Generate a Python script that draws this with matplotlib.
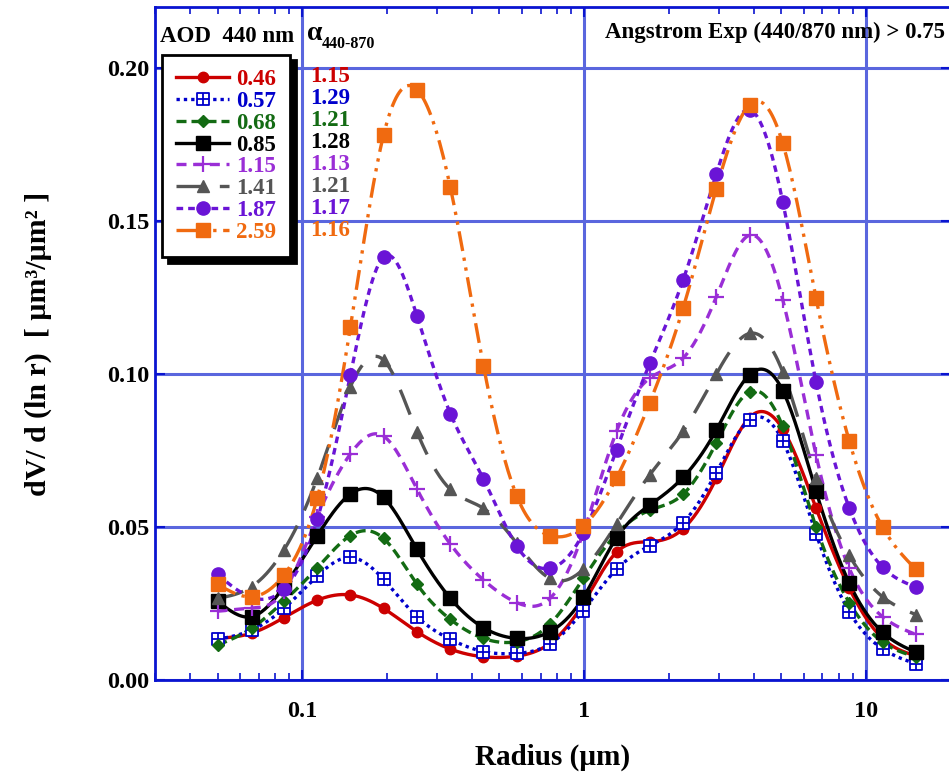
import numpy as np
import matplotlib
matplotlib.use("Agg")
import matplotlib.pyplot as plt
from matplotlib.path import Path
from matplotlib.lines import Line2D

plt.rcParams['font.family'] = ['Liberation Serif', 'DejaVu Serif']
plt.rcParams['font.weight'] = 'bold'
plt.rcParams['axes.labelweight'] = 'bold'

# AERONET radius bins (um)
radius = [0.050, 0.066, 0.086, 0.113, 0.148, 0.194, 0.255, 0.335, 0.439, 0.576, 0.756,
          0.992, 1.302, 1.708, 2.241, 2.940, 3.857, 5.061, 6.641, 8.713, 11.432, 15.000]

aod_labels = ['0.46', '0.57', '0.68', '0.85', '1.15', '1.41', '1.87', '2.59']
alpha_labels = ['1.15', '1.29', '1.21', '1.28', '1.13', '1.21', '1.17', '1.16']

dv_046 = [0.0136, 0.0153, 0.0204, 0.0261, 0.0278, 0.0234, 0.0158, 0.0101, 0.0076, 0.0078, 0.0120,
          0.0250, 0.0418, 0.0452, 0.0494, 0.0659, 0.0858, 0.0820, 0.0562, 0.0300, 0.0136, 0.0079]
dv_057 = [0.0133, 0.0163, 0.0234, 0.0340, 0.0401, 0.0329, 0.0207, 0.0133, 0.0093, 0.0087, 0.0118,
          0.0227, 0.0362, 0.0439, 0.0514, 0.0678, 0.0849, 0.0781, 0.0478, 0.0223, 0.0102, 0.0053]
dv_068 = [0.0114, 0.0169, 0.0258, 0.0367, 0.0472, 0.0463, 0.0313, 0.0198, 0.0136, 0.0125, 0.0183,
          0.0332, 0.0478, 0.0555, 0.0607, 0.0775, 0.0942, 0.0829, 0.0500, 0.0253, 0.0124, 0.0076]
dv_085 = [0.0258, 0.0207, 0.0305, 0.0472, 0.0608, 0.0597, 0.0427, 0.0267, 0.0171, 0.0136, 0.0158,
          0.0270, 0.0465, 0.0572, 0.0662, 0.0817, 0.0998, 0.0946, 0.0617, 0.0317, 0.0156, 0.0091]
dv_115 = [0.0225, 0.0235, 0.0290, 0.0534, 0.0739, 0.0797, 0.0624, 0.0444, 0.0327, 0.0253, 0.0267,
          0.0481, 0.0813, 0.0987, 0.1052, 0.1252, 0.1454, 0.1243, 0.0736, 0.0365, 0.0207, 0.0149]
dv_141 = [0.0267, 0.0305, 0.0425, 0.0661, 0.0959, 0.1046, 0.0811, 0.0623, 0.0561, 0.0447, 0.0332,
          0.0362, 0.0510, 0.0671, 0.0813, 0.1000, 0.1133, 0.1007, 0.0661, 0.0407, 0.0272, 0.0214]
dv_187 = [0.0345, 0.0270, 0.0297, 0.0525, 0.0997, 0.1383, 0.1190, 0.0871, 0.0657, 0.0438, 0.0365,
          0.0480, 0.0753, 0.1035, 0.1307, 0.1654, 0.1864, 0.1563, 0.0974, 0.0562, 0.0369, 0.0304]
dv_259 = [0.0313, 0.0272, 0.0343, 0.0596, 0.1153, 0.1781, 0.1930, 0.1610, 0.1027, 0.0602, 0.0472,
          0.0503, 0.0661, 0.0907, 0.1215, 0.1606, 0.1880, 0.1754, 0.1249, 0.0781, 0.0500, 0.0362]

series = [dv_046, dv_057, dv_068, dv_085, dv_115, dv_141, dv_187, dv_259]

# open square with a cross inside
box_plus = Path([(-1, -1), (1, -1), (1, 1), (-1, 1), (-1, -1), (0, -1), (0, 1), (-1, 0), (1, 0)],
                [Path.MOVETO, Path.LINETO, Path.LINETO, Path.LINETO, Path.CLOSEPOLY,
                 Path.MOVETO, Path.LINETO, Path.MOVETO, Path.LINETO])

styles = [
    dict(color='#CC0000', ls='-', marker='o', ms=7.5),
    dict(color='#0000CC', ls=(0, (1, 1.2)), marker=box_plus, ms=9, mfc='white', mew=1.3),
    dict(color='#136B13', ls=(0, (3, 1.5)), marker='D', ms=6.5),
    dict(color='black', ls='-', marker='s', ms=10.5),
    dict(color='#9A2ED6', ls=(0, (3, 2)), marker='+', ms=11, mew=1.6),
    dict(color='#555555', ls=(0, (8, 5)), marker='^', ms=9),
    dict(color='#6A14D6', ls=(0, (2, 1.5)), marker='o', ms=9.5),
    dict(color='#F06A10', ls=(0, (6, 2, 1, 2, 1, 2)), marker='s', ms=10),
]


def smooth(x, y, n=400):
    # natural cubic spline through the points, in log-radius
    u = np.log10(x)
    y = np.asarray(y, float)
    k = len(u)
    h = np.diff(u)
    A = np.zeros((k, k))
    b = np.zeros(k)
    A[0, 0] = A[-1, -1] = 1
    for i in range(1, k - 1):
        A[i, i - 1] = h[i - 1]
        A[i, i] = 2 * (h[i - 1] + h[i])
        A[i, i + 1] = h[i]
        b[i] = 6 * ((y[i + 1] - y[i]) / h[i] - (y[i] - y[i - 1]) / h[i - 1])
    m = np.linalg.solve(A, b)
    uu = np.linspace(u[0], u[-1], n)
    j = np.clip(np.searchsorted(u, uu) - 1, 0, k - 2)
    t0 = uu - u[j]
    t1 = u[j + 1] - uu
    hj = h[j]
    yy = (m[j] * t1**3 + m[j + 1] * t0**3) / (6 * hj) \
        + (y[j] / hj - m[j] * hj / 6) * t1 + (y[j + 1] / hj - m[j + 1] * hj / 6) * t0
    return 10**uu, yy


fig = plt.figure(figsize=(9.49, 7.73), dpi=100)
ax = fig.add_axes([155 / 949, 1 - 680 / 773, 796 / 949, 673 / 773])

spine_col = '#0A14D0'
grid_col = '#5A66DE'

handles = []
for vals, st, lab in zip(series, styles, aod_labels):
    xs, ys = smooth(radius, vals)
    ax.plot(xs, ys, color=st['color'], ls=st['ls'], lw=2.4, zorder=3)
    ax.plot(radius, vals, ls='none', marker=st['marker'], ms=st['ms'], color=st['color'],
            mfc=st.get('mfc', st['color']), mec=st['color'], mew=st.get('mew', 1), zorder=4)
    handles.append(Line2D([], [], color=st['color'], ls=st['ls'], lw=2.4, marker=st['marker'],
                          ms=st['ms'], mfc=st.get('mfc', st['color']), mec=st['color'],
                          mew=st.get('mew', 1), label=lab))

ax.set_xscale('log')
ax.set_xlim(0.03, 20)
ax.set_ylim(0, 0.22)
ax.set_yticks([0, 0.05, 0.10, 0.15, 0.20])
ax.set_yticklabels(['0.00', '0.05', '0.10', '0.15', '0.20'])
ax.set_xticks([0.1, 1, 10])
ax.set_xticklabels(['0.1', '1', '10'])
ax.grid(True, which='major', color=grid_col, lw=2.2)
ax.tick_params(which='both', direction='in', top=True, right=True, colors=spine_col,
               labelcolor='black', labelsize=17.5)
ax.tick_params(which='major', length=7, width=1.5)
ax.tick_params(axis='y', which='major', pad=4)
ax.tick_params(axis='x', which='major', pad=15)
ax.tick_params(which='minor', length=5, width=1.2)
for sp in ax.spines.values():
    sp.set_color(spine_col)
    sp.set_linewidth(2)

ax.set_xlabel('Radius (\u00b5m)', fontsize=21, labelpad=16)
ax.set_ylabel('dV/ d (ln r)  [ \u00b5m\u00b3/\u00b5m\u00b2 ]', fontsize=21.5, labelpad=40)

leg = ax.legend(handles=handles, loc='upper left', bbox_to_anchor=(0.009, 0.929),
                borderaxespad=0, fontsize=16.5, labelcolor='linecolor', handlelength=2.3,
                handletextpad=0.3, labelspacing=0.035, borderpad=0.62, fancybox=False,
                framealpha=1, edgecolor='black',
                shadow={'color': 'black', 'alpha': 1, 'ox': 4, 'oy': -4})
leg.get_frame().set_linewidth(2)
leg.set_zorder(10)

fig.text(160 / 949, 1 - 37 / 773, 'AOD  440 nm', fontsize=16.5, va='center', ha='left')
fig.text(307 / 949, 1 - 33 / 773, '\u03b1', fontsize=20, va='center', ha='left')
fig.text(322 / 949, 1 - 44 / 773, '440-870', fontsize=11.5, va='center', ha='left')
for i, (lab, st) in enumerate(zip(alpha_labels, styles)):
    fig.text(310 / 949, 1 - (77 + i * 21.9) / 773, lab, fontsize=16.5, va='center', ha='left',
             color=st['color'], zorder=11)

fig.text(945 / 949, 1 - 32 / 773, 'Angstrom Exp (440/870 nm) > 0.75', fontsize=16.5,
         va='center', ha='right')

fig.savefig('out.png', dpi=100)
